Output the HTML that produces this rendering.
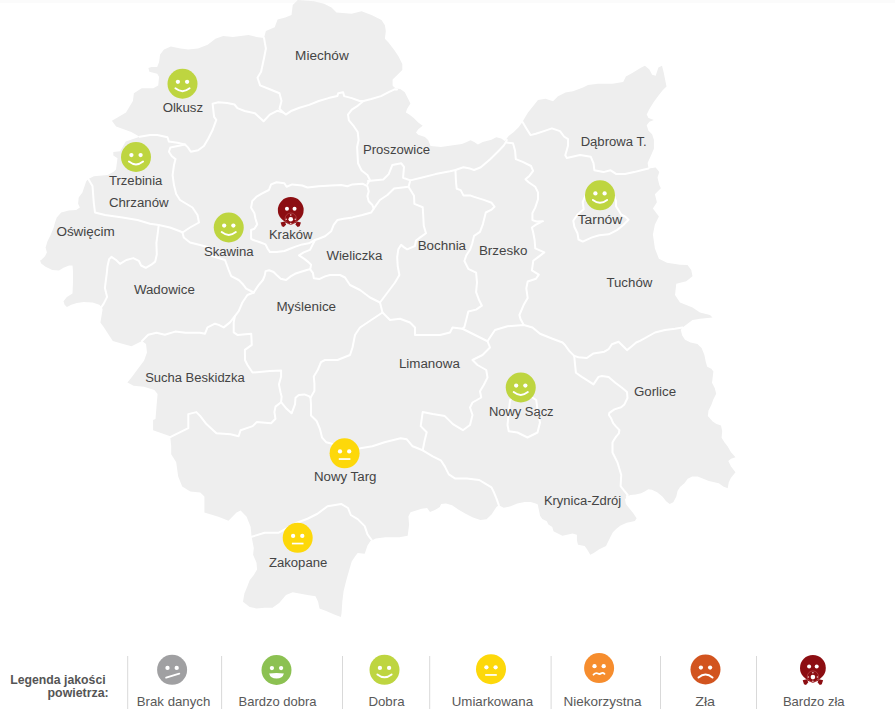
<!DOCTYPE html>
<html><head><meta charset="utf-8"><style>
html,body{margin:0;padding:0;background:#fff;}
body{width:895px;height:721px;overflow:hidden;position:relative;}
svg{position:absolute;left:0;top:0;display:block;}
.lb{font-family:"Liberation Sans",Arial,sans-serif;font-size:12.5px;fill:#444;}
.lg{font-family:"Liberation Sans",Arial,sans-serif;font-size:13px;fill:#595959;}
.lt{font-family:"Liberation Sans",Arial,sans-serif;font-size:12.5px;font-weight:bold;fill:#555;}
</style></head><body>
<svg width="895" height="721" viewBox="0 0 895 721">
<rect x="0" y="0" width="895" height="3" fill="#fbfbfb"/><polygon points="111.9,120.8 117.5,117.5 126,112.5 132.9,101 133.9,93.2 141.7,88.3 153.3,88.3 158.2,85.4 159.1,76.7 157.2,73.8 149.4,71.8 148.4,68 151.4,67 157.2,67 159.1,62.1 160.1,54.4 164,49.5 170.8,46.6 180.5,48.5 188.3,49.5 198,48.5 207.7,44.7 215.4,38.8 223.2,35.9 232.9,36.9 240.7,35.9 248.4,35 256.2,36.9 264,37.9 265.9,31.1 274.7,27.2 277.6,19.4 285.3,17.5 291.5,15 292.75,5 297.75,0 314,1.25 324,3.75 331.5,7.5 336.5,12.5 351.5,13.75 361.5,11.25 371.5,15 381.5,20 384.9,25.2 385.8,31.1 384.9,38.8 388.7,42.7 394.6,50.5 398.4,56.3 402.3,64.1 402.3,69.9 396.5,75.7 392.6,79.6 392.6,85.4 393.6,86.7 395.9,88.4 400.3,88.9 404.8,92.3 408.2,99 410.4,103.5 407,109 405.9,112.4 409.3,114.6 413.7,118 418.2,122.5 422.7,125.8 418.2,129.2 416,132.5 418.2,134.7 424.9,137 428.3,140.3 430.5,145.9 441,147 449.6,145.8 461.9,144 466.8,142.1 470.5,140.3 474.2,142.1 477.9,144.6 482.8,142.1 491.4,139.7 496.3,137.2 501.2,138.4 504.9,140.9 508.6,136 513.5,132.3 518.4,127.4 522.1,122.5 524.25,118.75 528,112.5 538,100 545.5,98.75 553,101.25 558,96.25 565.5,92.5 573,91.25 583,87.5 588,85 598,83.75 612.4,83.8 623.2,82 625.9,76.6 632.3,73 641.3,67.6 644.9,65.8 649.4,69.4 652.1,74.8 655.7,75.7 658.4,67.6 662,65.8 663.8,73 665.6,82 666.5,86.5 662.9,90.1 659.3,94.6 653.9,101.8 649.4,109.1 646.7,114.5 648.5,118.1 653.9,119.9 649.4,121.7 646.7,125.3 648.5,130.7 652.1,134.3 653.9,139.7 653.9,148.7 651.2,155 647.6,163.1 648.5,168.5 655.7,167.6 659.3,172.1 657.5,177.5 659.3,184.9 660.9,188.3 654.9,194.3 656.9,202.3 652.9,208.4 658.9,216.4 654.9,224.5 652.9,234.5 654.9,248.6 658.9,258.7 666.9,262.7 680,264.7 687.5,265 691.25,270 692.5,276.25 686.25,281.25 676.25,283.75 675,295 680,302.5 692.5,307.5 700,312.5 710,315 712.5,317.5 700,318.75 692.5,320 682.5,327.5 680.8,330 682.2,335.5 685,339.7 690.5,342.5 697.4,343.9 701.6,348 704.4,355 705.8,361.9 707.2,366.8 711.3,368.8 713.4,371.6 712.7,377.2 712,382.7 714.8,388.3 716.2,393.8 713.4,399.3 711.3,404.9 708.5,410.4 707.8,416 712.7,421.5 716.5,424 721,425.5 722.2,431.1 721.6,437.8 724.4,442.2 727.7,446.6 731,452.2 735.5,457.2 731,458.8 728.3,461.1 731,466.6 735.5,472.2 731,477.7 728.8,482.2 727.7,488.3 723.3,486.6 718.8,483.3 714.4,482.2 708.8,481 703.3,478.8 697.7,476.6 692.2,476.6 687.7,478.8 684.4,483.3 680,487 677.5,491 676.3,496.5 673.3,502.2 669.7,504 666.1,501.3 662.6,496.8 657.2,492.3 651.8,489.7 648.3,489.2 644.7,491.4 641.1,493.2 635.7,494.6 630.4,495 626.8,496.8 625,499.5 625.9,504 628.6,507.5 633.1,512.9 636.6,518.3 634.9,520.9 626.8,522.7 620.6,525.4 616.1,529 612.7,532.5 610.4,536.9 608.2,541.4 606,545.9 599.3,549.2 593.7,553.1 590.3,554.8 587,549.2 584.7,545.9 578,544.7 576.9,540.3 576.9,534.7 572.5,533.6 566.9,534.7 562.4,535.8 557.9,533.6 553.5,531.3 552.3,526.9 548.4,524.6 546.8,521.3 542.3,519.1 540.1,515.7 538.9,510.1 537.8,504.5 535.7,503.4 530.8,502.1 524.6,502.1 517.3,503.4 509.9,506.4 503.7,507.7 498.8,505.2 496.4,507 491.5,514.4 486.5,519.3 480.4,520 473,517.5 465.6,513.8 458.3,509.5 452.1,505.2 446,503.4 441.1,504 439.8,507 434.9,510.1 430,512 427.1,508 421.6,508.7 410.5,512.2 408.4,516.4 409.1,524.7 407.7,535.8 399.4,537.2 385.5,537.2 375.8,538.6 370.2,541.3 367.5,545.5 364.7,553.8 357.7,553.1 355,556.6 351.7,561.5 349,570.8 346.3,580.2 343.6,591 342.3,601.7 341.6,612.4 340.9,617.1 334.2,614.4 326.2,611.1 319.5,608.4 318.1,601.7 315.5,596.3 307.4,595 299.4,593.6 292.7,592.3 286,595 279.2,603 272.5,607.7 264.5,607.7 256.5,608.4 249.7,607 243,601.7 244.4,593.6 247.1,586.9 249.7,580.2 253.8,574.9 257.1,569.5 256.5,562.8 253.1,554.7 253.8,548 251.6,536.8 250.6,526.7 246.6,516.7 240.6,510.6 236.5,512.6 228.5,520.7 218.4,516.7 204.4,512.6 204.4,496.5 200.3,492.5 190.3,491.5 182.2,486.5 178.2,476.4 176.2,462.3 171.2,454.3 171.2,446.3 170.2,436.2 153.1,430.2 153.1,420.1 155.5,419 156.5,406.5 157.6,394 154.4,389.9 144,386.8 133.6,385.7 127.4,382.6 131.5,377.4 137.8,369 144,360.7 147,352.4 146,344 142,341 131.5,346.2 123.2,344.1 112.8,341 106.6,331.6 103.7,327 100.4,322.6 101.5,315.9 102.6,309.2 101.5,306.9 99.3,304.7 92.6,302.5 83.6,301.9 76.9,303 71.3,304.7 66.9,306.9 64.6,304.7 63.5,301.3 66.9,296.9 72.5,293.5 73,282.3 73,271.2 72.5,265.6 69.1,265.6 63.5,267.8 59,270.6 52.3,270.1 45.6,266.7 41.2,263.4 40,260.5 41.2,259.9 45,256.2 46.9,252.4 45.6,247.4 47.5,241.2 50.6,234.9 53.7,227.5 55,222.5 56.8,217.5 61.2,212.5 68.7,210.6 76.2,210 79.9,207.5 78.1,203.7 78.7,197.5 82.4,192.5 86.25,181.25 88.3,179.1 93.9,176.3 107.7,174.9 113.3,172.1 116,169.4 117.5,158.3 113.3,155.5 113.3,152 120.2,151.3 125.8,141.6 139.7,136.8 131.3,131.9 123,129.1 116.1,126.4" fill="#eeeeee"/><polyline points="264,37.9 265.9,48.5 264,58.3 261.1,71.8 257.5,77.7 260.1,85.4 269.8,89.3 279.5,93.2 281.5,101 279.5,108.7 283.4,112.6 285.8,114.6 291.7,110.7 299.4,107.8 309.1,104.9 318.8,101 328.5,98.1 337.3,96.1 338.3,93.2 343.1,92.2 344.1,96.1 351.8,98.1 359.6,101 363.5,101 371.3,99 381,96.1 388.7,92.2 394.6,89.3 397,89.5" fill="none" stroke="#fff" stroke-width="2" stroke-linejoin="round" stroke-linecap="round"/><polyline points="139.7,136.8 150,135 157.3,135 167.5,137.2 168.9,141.6 179.1,143.1 185,144.5 187.9,147.4 190.8,151.8 198.1,150.3 203.9,146 208.2,138.7 212.6,130 216.3,119.8 214.1,116.8 212.6,103.7 218.4,102.3 227.2,103 234.5,104.5 237.4,108.1 244.7,111 254.9,113.2 263.6,121.2 269.8,114.6 277.6,110.7 283.4,112.6" fill="none" stroke="#fff" stroke-width="2" stroke-linejoin="round" stroke-linecap="round"/><polyline points="185,144.5 170.4,147.4 168.9,151.8 171.8,156.2 175.5,159.1 174,164.9 172.6,175.1 174,185.3 176.2,194 180,200 185,203 192.5,207.5 197.5,215 199,222.5 190,227.5 182.5,232.5 183.75,237.5 190,242.5 200,245 207.5,247 212,256 225,260 228.7,270 231.2,276.2 238.7,280 242.4,283.7 246.2,288.7 253.7,292.5" fill="none" stroke="#fff" stroke-width="2" stroke-linejoin="round" stroke-linecap="round"/><polyline points="88.3,179.1 92.5,186 93.75,202.5 95,212.5 105,215 122.5,217.5 137.5,220 150,223.75 158.75,225 170,227.5 180,231.25 182.5,232.5" fill="none" stroke="#fff" stroke-width="2" stroke-linejoin="round" stroke-linecap="round"/><polyline points="158.75,225 157.5,235 156.4,242.8 156.8,254.5 155.2,261.6 151.3,264.7 145.8,267.8 141.1,265.5 138.8,260.8 133.3,258.1 126.3,260 120,263.9 116.1,260 111.4,256.9 109.1,259.2 107.5,266.3 106.7,274.1 105.9,280 104.9,287.9 107.1,296.9 103.7,303.6 101.5,306.9" fill="none" stroke="#fff" stroke-width="2" stroke-linejoin="round" stroke-linecap="round"/><polyline points="253.7,292.5 247.4,295 242.4,302.5 238.7,311.2 234.9,316.2 230,322.4 223.7,327.4 218.7,324.9 215,323.7 207.5,327.4 205,333.7 200,332.7 185.7,332.7 175.2,331.6 164.8,334.7 156.5,332.7 148.2,334.7 142,341" fill="none" stroke="#fff" stroke-width="2" stroke-linejoin="round" stroke-linecap="round"/><polyline points="253.7,292.5 258.4,285.4 262.9,280 264.7,275.6 265.6,271.1 269.1,270.2 273.6,272 277.2,275.6 280.7,278.7 286.1,280 290.6,276.4 295,273.8 300.4,272 307.6,269.7 310.2,269.3" fill="none" stroke="#fff" stroke-width="2" stroke-linejoin="round" stroke-linecap="round"/><polyline points="234.9,316.2 233.7,322.4 233.7,332.4 237.4,334.9 251.2,333.7 251.8,344.9 244.9,349.9 245,360 247.5,365 252.5,372.5 270,371.1 281.1,370.5 281.1,376.6 278.9,384.4 280.5,392.2 281.6,396.6 281.1,402.2 275.5,406.6 274.4,412.1 275.5,418.8 271.1,423.2 256.7,422.1 252.6,426.1 240.6,430.2 238.6,436.2 230.5,434.2 216.4,433.2 206.4,424.1 200.3,416.1 196.3,412.1 188.3,414.1 188.3,428.2 170.2,437.2" fill="none" stroke="#fff" stroke-width="2" stroke-linejoin="round" stroke-linecap="round"/><polyline points="281.1,402.2 286.6,408.8 291.6,413.3 293.3,408.8 295,404.4 295.5,397.7 298.8,395 304.4,394.4 308.8,396.1 310.5,397.7 311,404.4 311,415.5 316.6,421 319.9,428.8 322.1,437.7 326.1,442.2 330.2,443.2 345,450 360.3,448.3 372.4,446.3 384.5,442.2 392.5,440.2 400.6,438.2 406.6,439.2 412.6,446.3 422.7,450.3 432.7,456.3 440.8,460.3 444.8,466.4 448.8,474.4 454.9,478.4 466.9,478.4 479.2,480 485.3,483.7 491.5,487.4 493.9,492.3 496.4,498.4 498.8,505.2" fill="none" stroke="#fff" stroke-width="2" stroke-linejoin="round" stroke-linecap="round"/><polyline points="310.5,397.7 314.4,391.1 314.4,383.3 313.8,376.6 317.7,370 321,362.2 325,360 337.5,360 350,355 352.5,347.5 355,335 360,327.5 375,317.5 382.5,312.5" fill="none" stroke="#fff" stroke-width="2" stroke-linejoin="round" stroke-linecap="round"/><polyline points="310.2,269.3 312.9,272.9 313.8,278.2 319.2,279.1 325,276.4 330,275 340,275 345,277.5 350,285 360,290 370,297.5 380,302.5 382.5,312.5" fill="none" stroke="#fff" stroke-width="2" stroke-linejoin="round" stroke-linecap="round"/><polyline points="252.2,201.1 256.6,196.6 262.2,193.3 268.9,190 271.1,184.4 276.6,182.2 284.4,183.3 286.6,186.7 292.2,184.4 302.2,185.5 307.5,187.5 318.7,186.2 331.2,185.6 341.2,185 347.4,186.2 352.4,184.4 362.4,183.7 367.4,186.2 368.7,191.2 367.4,196.2 368.7,201.2 372.4,205 373.7,208.7 371.2,212.5 362.4,215 352.4,217.4 343.7,218.7 337.5,219.9 333.7,224.9 331.2,231.2 325,236.2 318.7,238.7 315,240 308.8,243.3 302.2,244.4 295.5,246.6 290,248.8 284.4,251 276.6,252.1 270,252.1 267.7,248.8 265.5,244.4 260,242.2 253.3,240 251.1,238.8 251.1,230 254.4,228.8 257.2,224.4 255.5,218.8 254.4,213.3 251.1,207.7 252.2,201.1" fill="none" stroke="#fff" stroke-width="2" stroke-linejoin="round" stroke-linecap="round"/><polyline points="315,240 312.5,244.9 310,249.9 303.7,252.4 299,255.3 304,258.6 308.4,262.1 311.1,264.8 310.2,269.3" fill="none" stroke="#fff" stroke-width="2" stroke-linejoin="round" stroke-linecap="round"/><polyline points="363.5,101 357.7,105.8 351.8,109.7 348,114.6 348.9,120.4 353.8,126.2 357.7,132 358.6,140 357.1,147 358,163.3 361.6,170.5 367.4,175 369.9,180 367.4,184" fill="none" stroke="#fff" stroke-width="2" stroke-linejoin="round" stroke-linecap="round"/><polyline points="368,181 383.3,179.5 388.7,174.1 392.3,165.1 401.3,163.3 404,166.9 403.1,177.7 410.3,180.4 421.2,177.7 435.6,174.1 450,171.3 455.4,170 463.4,167.3 470.1,168.6 474.1,170 480.8,167.3 490.2,159.2 498.3,151.2 503.6,145.8 506.1,141.8 506.8,140" fill="none" stroke="#fff" stroke-width="2" stroke-linejoin="round" stroke-linecap="round"/><polyline points="373.7,208.7 379.9,200 387.4,195 394.1,188.5 408.5,186.7 410.3,180.4" fill="none" stroke="#fff" stroke-width="2" stroke-linejoin="round" stroke-linecap="round"/><polyline points="408.5,186.7 414,195.8 414.4,203.9 422.7,207.2 423.2,215 423.8,226 426,233.2 420.5,237.1 416,240.5 414.9,246 407.2,249.3 403.8,247.1 401.1,244.9 398.3,249.3 397.2,257.1 397.7,266 399.4,275 395,282.5 387.5,292.5 380,302.5" fill="none" stroke="#fff" stroke-width="2" stroke-linejoin="round" stroke-linecap="round"/><polyline points="455.4,170 456,182 456.7,188.7 460.7,190.1 463.4,195.4 470.1,195.4 474.1,196.9 483.8,199.9 491.6,202.8 494.5,206.7 491.6,209.6 485.8,212.5 482.9,224.1 480,231.9 474.1,235.8 472.2,243.5 470.2,249.4 466.4,255.2 464.4,261 468.3,268.8 476.1,272.7 477,282.4 476.1,292.1 479,299.9 481.9,305.7 476.1,309.6 468.3,311.5 466.4,319.3 464.4,327 462.5,329" fill="none" stroke="#fff" stroke-width="2" stroke-linejoin="round" stroke-linecap="round"/><polyline points="382.5,312.5 390,320 400,318.75 410,322.5 415,327.5 415,335 430,335 440,335 450,332.5 452.5,327.5 462.5,328.75" fill="none" stroke="#fff" stroke-width="2" stroke-linejoin="round" stroke-linecap="round"/><polyline points="462.5,328.75 475,335 487.5,341.25 490,347.5 482.5,355 472.5,360 477.5,365 486.25,370 487.5,377.5 483.75,385 480,391.25 481.25,397.5 472.5,402.5 470,407.5 472.5,415 470,425 462.9,430.2 452.9,424.1 444.8,416.1 432.7,414.1 422.7,412.1 420.7,426.1 426.7,432.2 424.7,440.2 422.7,450.3" fill="none" stroke="#fff" stroke-width="2" stroke-linejoin="round" stroke-linecap="round"/><polyline points="487.5,341.25 495,330 507.5,326.25 523.75,325 532.5,327.5 540,333.75 552.5,338.75 562.5,342.5 565,345 569.2,350.9 574.2,355.9" fill="none" stroke="#fff" stroke-width="2" stroke-linejoin="round" stroke-linecap="round"/><polyline points="506.3,142.5 513,143.2 515.1,150.8 515.8,159.1 522.7,161.9 531,166 533.1,170.9 529.6,175.7 525.5,179.2 528.3,182 535.2,186.8 538,192.4 538,199.3 535.2,207.6 532.4,213.1 532.4,220.1 536.6,221.5 543,221.2 536,224.7 531.9,227.5 533.3,233 534.6,240 535.3,248.3 544.3,252.4 538.8,256.6 533.3,260.7 531.9,270.4 538.8,274.6 536,278.7 527.7,281.5 526.3,288.4 527.7,298.1 523.6,305.1 519.4,315 520.5,319 523.75,325" fill="none" stroke="#fff" stroke-width="2" stroke-linejoin="round" stroke-linecap="round"/><polyline points="522.4,121.7 526.4,128.4 530.5,135.1 535.8,133.8 543.9,131.1 551.9,128.4 560,131.1 564,136.5 568,139.1 568,145.8 565.3,155.2 566.7,157.9 580,155 590.8,156.8 593.5,163.1 594.4,170.3 603.4,172.1 610.6,170.3 616,173.9 625,173.9 634.1,172.1 641.3,170.3 648.5,168.5" fill="none" stroke="#fff" stroke-width="2" stroke-linejoin="round" stroke-linecap="round"/><polyline points="582.7,202 583.7,209.3 577.5,214.5 573.3,220.8 574.4,227 577.5,233.3 578.5,239.5 582.7,241.6 592,237.4 599.3,235.3 608.7,234.3 617,230.1 623.3,225 628.5,219.7 625.3,216.6 621.2,214.5 616,206.2 616,201 612,190 600,186 588,190 582.7,202" fill="none" stroke="#fff" stroke-width="2" stroke-linejoin="round" stroke-linecap="round"/><polyline points="574.2,355.9 578.4,357.2 586.8,358 593.5,353.4 604.4,351.7 608.6,349.2 611.9,344.2 618.6,341.7 623.7,346.7 627,350.1 631.2,346.7 636.2,342.5 640,340.8 655,332.5 665,330 675,328.75 682.5,327.5" fill="none" stroke="#fff" stroke-width="2" stroke-linejoin="round" stroke-linecap="round"/><polyline points="574.2,355.9 575.1,365.1 575.9,372.7 581.8,376.9 588.5,381.1 593.5,384.4 598.5,376.9 601.9,376 608.6,376.9 615.3,382.7 622,387.8 627,392 627.5,398 624.4,404.4 621.1,407.2 614.4,409.4 609.4,412.8 608.9,415 611.1,418.3 613.3,423.3 616.1,426.6 619.4,430 618.9,433.3 616.1,436.6 613.9,440 612.5,442.5 612.5,452.5 617.5,462.5 621.25,475 620.6,486.1 624.1,490.6 627.7,495 626.8,496.8" fill="none" stroke="#fff" stroke-width="2" stroke-linejoin="round" stroke-linecap="round"/><polyline points="510,400 508.75,412.5 507.5,425 508.75,431.25 517.5,432.5 527.5,437.5 537.5,432.5 540,422.5 537.5,410 536.25,400 530,396 516,396 510,400" fill="none" stroke="#fff" stroke-width="2" stroke-linejoin="round" stroke-linecap="round"/><polyline points="251.6,536.8 264.7,532.7 278.8,532.7 297.5,522.5 307.5,518.75 317.5,513.75 327.5,506.25 341.1,503.9 348,508 350.8,515 357.7,519.1 364.7,526.1 367.5,534.4 371.6,540" fill="none" stroke="#fff" stroke-width="2" stroke-linejoin="round" stroke-linecap="round"/><text x="321.9" y="59.8" text-anchor="middle" textLength="53.6" lengthAdjust="spacingAndGlyphs" class="lb">Miechów</text><text x="182.88" y="112" text-anchor="middle" textLength="40.45" lengthAdjust="spacingAndGlyphs" class="lb">Olkusz</text><text x="135.62" y="184.5" text-anchor="middle" textLength="53.45" lengthAdjust="spacingAndGlyphs" class="lb">Trzebinia</text><text x="138.75" y="207" text-anchor="middle" textLength="59.7" lengthAdjust="spacingAndGlyphs" class="lb">Chrzanów</text><text x="85.62" y="236" text-anchor="middle" textLength="58.45" lengthAdjust="spacingAndGlyphs" class="lb">Oświęcim</text><text x="164.38" y="293.75" text-anchor="middle" textLength="60.95" lengthAdjust="spacingAndGlyphs" class="lb">Wadowice</text><text x="228.75" y="255.6" text-anchor="middle" textLength="49.7" lengthAdjust="spacingAndGlyphs" class="lb">Skawina</text><text x="290.62" y="238.75" text-anchor="middle" textLength="43.45" lengthAdjust="spacingAndGlyphs" class="lb">Kraków</text><text x="354.38" y="260" text-anchor="middle" textLength="55.95" lengthAdjust="spacingAndGlyphs" class="lb">Wieliczka</text><text x="306.25" y="311" text-anchor="middle" textLength="59.7" lengthAdjust="spacingAndGlyphs" class="lb">Myślenice</text><text x="396.5" y="153.75" text-anchor="middle" textLength="67.2" lengthAdjust="spacingAndGlyphs" class="lb">Proszowice</text><text x="441.88" y="249.8" text-anchor="middle" textLength="48.45" lengthAdjust="spacingAndGlyphs" class="lb">Bochnia</text><text x="503.12" y="255" text-anchor="middle" textLength="48.45" lengthAdjust="spacingAndGlyphs" class="lb">Brzesko</text><text x="613.62" y="146" text-anchor="middle" textLength="65.95" lengthAdjust="spacingAndGlyphs" class="lb">Dąbrowa T.</text><text x="600" y="224" text-anchor="middle" textLength="44.7" lengthAdjust="spacingAndGlyphs" class="lb">Tarnów</text><text x="629.38" y="287" text-anchor="middle" textLength="45.95" lengthAdjust="spacingAndGlyphs" class="lb">Tuchów</text><text x="195" y="382" text-anchor="middle" textLength="99.7" lengthAdjust="spacingAndGlyphs" class="lb">Sucha Beskidzka</text><text x="429.38" y="368" text-anchor="middle" textLength="60.95" lengthAdjust="spacingAndGlyphs" class="lb">Limanowa</text><text x="521.25" y="416" text-anchor="middle" textLength="64.7" lengthAdjust="spacingAndGlyphs" class="lb">Nowy Sącz</text><text x="655" y="396" text-anchor="middle" textLength="42.2" lengthAdjust="spacingAndGlyphs" class="lb">Gorlice</text><text x="345.2" y="481" text-anchor="middle" textLength="62.6" lengthAdjust="spacingAndGlyphs" class="lb">Nowy Targ</text><text x="582.5" y="505" text-anchor="middle" textLength="77.2" lengthAdjust="spacingAndGlyphs" class="lb">Krynica-Zdrój</text><text x="298.12" y="567" text-anchor="middle" textLength="58.45" lengthAdjust="spacingAndGlyphs" class="lb">Zakopane</text><circle cx="182.5" cy="83.75" r="15" fill="#bed540"/><circle cx="177.9" cy="81.85" r="2.15" fill="#fff"/><circle cx="187.1" cy="81.85" r="2.15" fill="#fff"/><path d="M175.4,88.35 Q182.5,93.95 189.6,88.35" fill="none" stroke="#fff" stroke-width="1.9" stroke-linecap="round"/><circle cx="136" cy="157" r="15" fill="#bed540"/><circle cx="131.4" cy="155.1" r="2.15" fill="#fff"/><circle cx="140.6" cy="155.1" r="2.15" fill="#fff"/><path d="M128.9,161.6 Q136,167.2 143.1,161.6" fill="none" stroke="#fff" stroke-width="1.9" stroke-linecap="round"/><circle cx="228.75" cy="227.5" r="15" fill="#bed540"/><circle cx="224.15" cy="225.6" r="2.15" fill="#fff"/><circle cx="233.35" cy="225.6" r="2.15" fill="#fff"/><path d="M221.65,232.1 Q228.75,237.7 235.85,232.1" fill="none" stroke="#fff" stroke-width="1.9" stroke-linecap="round"/><circle cx="290.75" cy="210" r="12.9" fill="#8c0e12"/><polygon points="300.95,222.4 296.95,221.4 295.35,224.4 297.65,227.1 299.65,226.3" fill="#8c0e12"/><polygon points="280.55,222.4 284.55,221.4 286.15,224.4 283.85,227.1 281.85,226.3" fill="#8c0e12"/><path d="M283.75,222 L290.75,224.8 L297.75,222 L290.75,219 z" fill="#8c0e12"/><circle cx="286.95" cy="208.7" r="2" fill="#fff"/><circle cx="294.55" cy="208.7" r="2" fill="#fff"/><circle cx="290.75" cy="218.6" r="5.6" fill="none" stroke="#b8484c" stroke-width="0.7"/><circle cx="290.75" cy="219.2" r="2.3" fill="#fff"/><circle cx="290.75" cy="214.9" r="0.75" fill="#f2d0d0"/><circle cx="286.25" cy="219.2" r="0.75" fill="#f2d0d0"/><circle cx="295.25" cy="219.2" r="0.75" fill="#f2d0d0"/><circle cx="290.75" cy="223.4" r="0.75" fill="#f2d0d0"/><circle cx="600" cy="195.3" r="15" fill="#bed540"/><circle cx="595.4" cy="193.4" r="2.15" fill="#fff"/><circle cx="604.6" cy="193.4" r="2.15" fill="#fff"/><path d="M592.9,199.9 Q600,205.5 607.1,199.9" fill="none" stroke="#fff" stroke-width="1.9" stroke-linecap="round"/><circle cx="520.75" cy="387.5" r="15" fill="#bed540"/><circle cx="516.15" cy="385.6" r="2.15" fill="#fff"/><circle cx="525.35" cy="385.6" r="2.15" fill="#fff"/><path d="M513.65,392.1 Q520.75,397.7 527.85,392.1" fill="none" stroke="#fff" stroke-width="1.9" stroke-linecap="round"/><circle cx="344.6" cy="453.3" r="15" fill="#fdd80a"/><circle cx="340" cy="451.4" r="2.15" fill="#fff"/><circle cx="349.2" cy="451.4" r="2.15" fill="#fff"/><rect x="338.8" y="458.2" width="11.6" height="1.7" fill="#fff"/><circle cx="297.7" cy="537.8" r="15" fill="#fdd80a"/><circle cx="293.1" cy="535.9" r="2.15" fill="#fff"/><circle cx="302.3" cy="535.9" r="2.15" fill="#fff"/><rect x="291.9" y="542.7" width="11.6" height="1.7" fill="#fff"/>
<rect x="127.2" y="656" width="1" height="53" fill="#d9d9d9"/><rect x="221.1" y="656" width="1" height="53" fill="#d9d9d9"/><rect x="342" y="656" width="1" height="53" fill="#d9d9d9"/><rect x="429.2" y="656" width="1" height="53" fill="#d9d9d9"/><rect x="550.6" y="656" width="1" height="53" fill="#d9d9d9"/><rect x="660" y="656" width="1" height="53" fill="#d9d9d9"/><rect x="756" y="656" width="1" height="53" fill="#d9d9d9"/><circle cx="172.1" cy="669.8" r="15" fill="#a0a0a2"/><circle cx="167.5" cy="667.9" r="2.15" fill="#fff"/><circle cx="176.7" cy="667.9" r="2.15" fill="#fff"/><path d="M166.1,677.7 L179.3,673.6" fill="none" stroke="#fff" stroke-width="1.8" stroke-linecap="round"/><text x="173.55" y="705.9" text-anchor="middle" textLength="73.5" lengthAdjust="spacingAndGlyphs" class="lg">Brak danych</text><circle cx="276.5" cy="670" r="15" fill="#8cc152"/><circle cx="271.9" cy="668.1" r="2.15" fill="#fff"/><circle cx="281.1" cy="668.1" r="2.15" fill="#fff"/><path d="M269.1,673.6 Q276.5,672.6 283.9,673.6 Q282.7,678.6 276.5,678.6 Q270.3,678.6 269.1,673.6 z" fill="#fff"/><text x="277.5" y="705.9" text-anchor="middle" textLength="78" lengthAdjust="spacingAndGlyphs" class="lg">Bardzo dobra</text><circle cx="384.5" cy="669.8" r="15" fill="#bed540"/><circle cx="379.9" cy="667.9" r="2.15" fill="#fff"/><circle cx="389.1" cy="667.9" r="2.15" fill="#fff"/><path d="M377.4,674.4 Q384.5,680 391.6,674.4" fill="none" stroke="#fff" stroke-width="1.9" stroke-linecap="round"/><text x="386.5" y="705.9" text-anchor="middle" textLength="36.2" lengthAdjust="spacingAndGlyphs" class="lg">Dobra</text><circle cx="491" cy="669.2" r="15" fill="#fdd80a"/><circle cx="486.4" cy="667.3" r="2.15" fill="#fff"/><circle cx="495.6" cy="667.3" r="2.15" fill="#fff"/><rect x="485.2" y="674.1" width="11.6" height="1.7" fill="#fff"/><text x="492.4" y="705.9" text-anchor="middle" textLength="81.4" lengthAdjust="spacingAndGlyphs" class="lg">Umiarkowana</text><circle cx="599.1" cy="668.1" r="15" fill="#f68d2e"/><circle cx="594.5" cy="666.2" r="2.15" fill="#fff"/><circle cx="603.7" cy="666.2" r="2.15" fill="#fff"/><path d="M593.5,674.7 q2.2,-2.4 4.4,-1.2 q1.8,1.1 3.4,-0.2 q1.5,-1.2 3.2,0.6" fill="none" stroke="#fff" stroke-width="1.8" stroke-linecap="round"/><text x="602.4" y="705.9" text-anchor="middle" textLength="78" lengthAdjust="spacingAndGlyphs" class="lg">Niekorzystna</text><circle cx="705.5" cy="669.5" r="15" fill="#d2541f"/><circle cx="700.9" cy="667.6" r="2.15" fill="#fff"/><circle cx="710.1" cy="667.6" r="2.15" fill="#fff"/><path d="M698.5,677.5 Q705.5,671.5 712.5,677.5" fill="none" stroke="#fff" stroke-width="2" stroke-linecap="round"/><text x="705.15" y="705.9" text-anchor="middle" textLength="19.9" lengthAdjust="spacingAndGlyphs" class="lg">Zła</text><circle cx="812.9" cy="667.9" r="12.9" fill="#8c0e12"/><polygon points="823.1,680.3 819.1,679.3 817.5,682.3 819.8,685 821.8,684.2" fill="#8c0e12"/><polygon points="802.7,680.3 806.7,679.3 808.3,682.3 806,685 804,684.2" fill="#8c0e12"/><path d="M805.9,679.9 L812.9,682.7 L819.9,679.9 L812.9,676.9 z" fill="#8c0e12"/><circle cx="809.1" cy="666.6" r="2" fill="#fff"/><circle cx="816.7" cy="666.6" r="2" fill="#fff"/><circle cx="812.9" cy="676.5" r="5.6" fill="none" stroke="#b8484c" stroke-width="0.7"/><circle cx="812.9" cy="677.1" r="2.3" fill="#fff"/><circle cx="812.9" cy="672.8" r="0.75" fill="#f2d0d0"/><circle cx="808.4" cy="677.1" r="0.75" fill="#f2d0d0"/><circle cx="817.4" cy="677.1" r="0.75" fill="#f2d0d0"/><circle cx="812.9" cy="681.3" r="0.75" fill="#f2d0d0"/><text x="813.75" y="705.9" text-anchor="middle" textLength="61.7" lengthAdjust="spacingAndGlyphs" class="lg">Bardzo zła</text><text x="57.95" y="683.8" text-anchor="middle" textLength="95.4" lengthAdjust="spacingAndGlyphs" class="lt">Legenda jakości</text><text x="78.1" y="697.2" text-anchor="middle" textLength="61.1" lengthAdjust="spacingAndGlyphs" class="lt">powietrza:</text>
</svg>
</body></html>
